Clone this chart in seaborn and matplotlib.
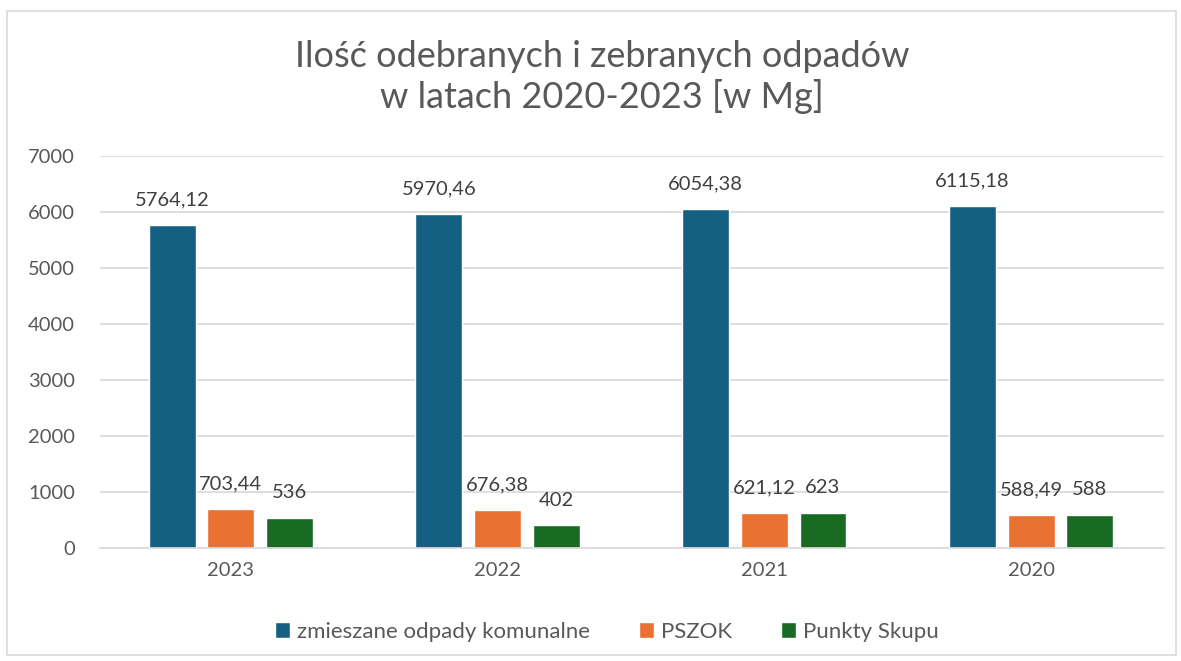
import matplotlib.pyplot as plt
import seaborn as sns
import pandas as pd
from matplotlib.patches import Rectangle

# data
years = ['2023', '2022', '2021', '2020']
zmieszane = [5764.12, 5970.46, 6054.38, 6115.18]
pszok = [703.44, 676.38, 621.12, 588.49]
skup = [536, 402, 623, 588]
series = ['zmieszane odpady komunalne', 'PSZOK', 'Punkty Skupu']
labels_txt = [
    ['5764,12', '5970,46', '6054,38', '6115,18'],
    ['703,44', '676,38', '621,12', '588,49'],
    ['536', '402', '623', '588'],
]

df = pd.DataFrame({
    'rok': years * 3,
    'seria': [s for s in series for _ in years],
    'wartosc': zmieszane + pszok + skup,
})

colors = ['#156082', '#E97132', '#196B24']
txt = '#595959'

sns.set_theme(style='white')
plt.rcParams['font.family'] = ['Lato', 'DejaVu Sans']

fig = plt.figure(figsize=(11.81, 6.61), dpi=100)
ax = fig.add_axes([0.0847, 0.171, 0.9013, 0.593])

sns.barplot(data=df, x='rok', y='wartosc', hue='seria', palette=colors,
            width=0.66, gap=0.2, ax=ax, legend=True, saturation=1)

for cont, labs in zip(ax.containers, labels_txt):
    ax.bar_label(cont, labels=labs, padding=12, fontsize=14.5, color='#404040')

ax.set_ylim(0, 7000)
ax.set_xlim(-0.49, 3.5)
ax.set_yticks(range(0, 7001, 1000))
ax.yaxis.grid(True, color='#D9D9D9', linewidth=1.2)
ax.set_axisbelow(True)
for s in ['top', 'right', 'left']:
    ax.spines[s].set_visible(False)
ax.spines['bottom'].set_color('#D9D9D9')
ax.spines['bottom'].set_linewidth(1.2)
ax.tick_params(axis='both', labelsize=14.5, colors=txt, length=0)
ax.tick_params(axis='y', pad=18)
ax.tick_params(axis='x', pad=10)
ax.set_xlabel('')
ax.set_ylabel('')

ax.legend(loc='center', bbox_to_anchor=(0.476, -0.214), ncol=3, frameon=False,
          fontsize=16, labelcolor=txt, handlelength=0.7, handleheight=0.7,
          handletextpad=0.3, columnspacing=2.2)

fig.text(0.51, 0.884, 'Ilość odebranych i zebranych odpadów\nw latach 2020-2023 [w Mg]',
         ha='center', va='center', fontsize=26, color=txt, linespacing=1.2)

# outer chart border
fig.patches.append(Rectangle((0.006, 0.009), 0.99, 0.974, transform=fig.transFigure,
                             fill=False, edgecolor='#D9D9D9', linewidth=1.2))

fig.savefig('out.png', dpi=100)
